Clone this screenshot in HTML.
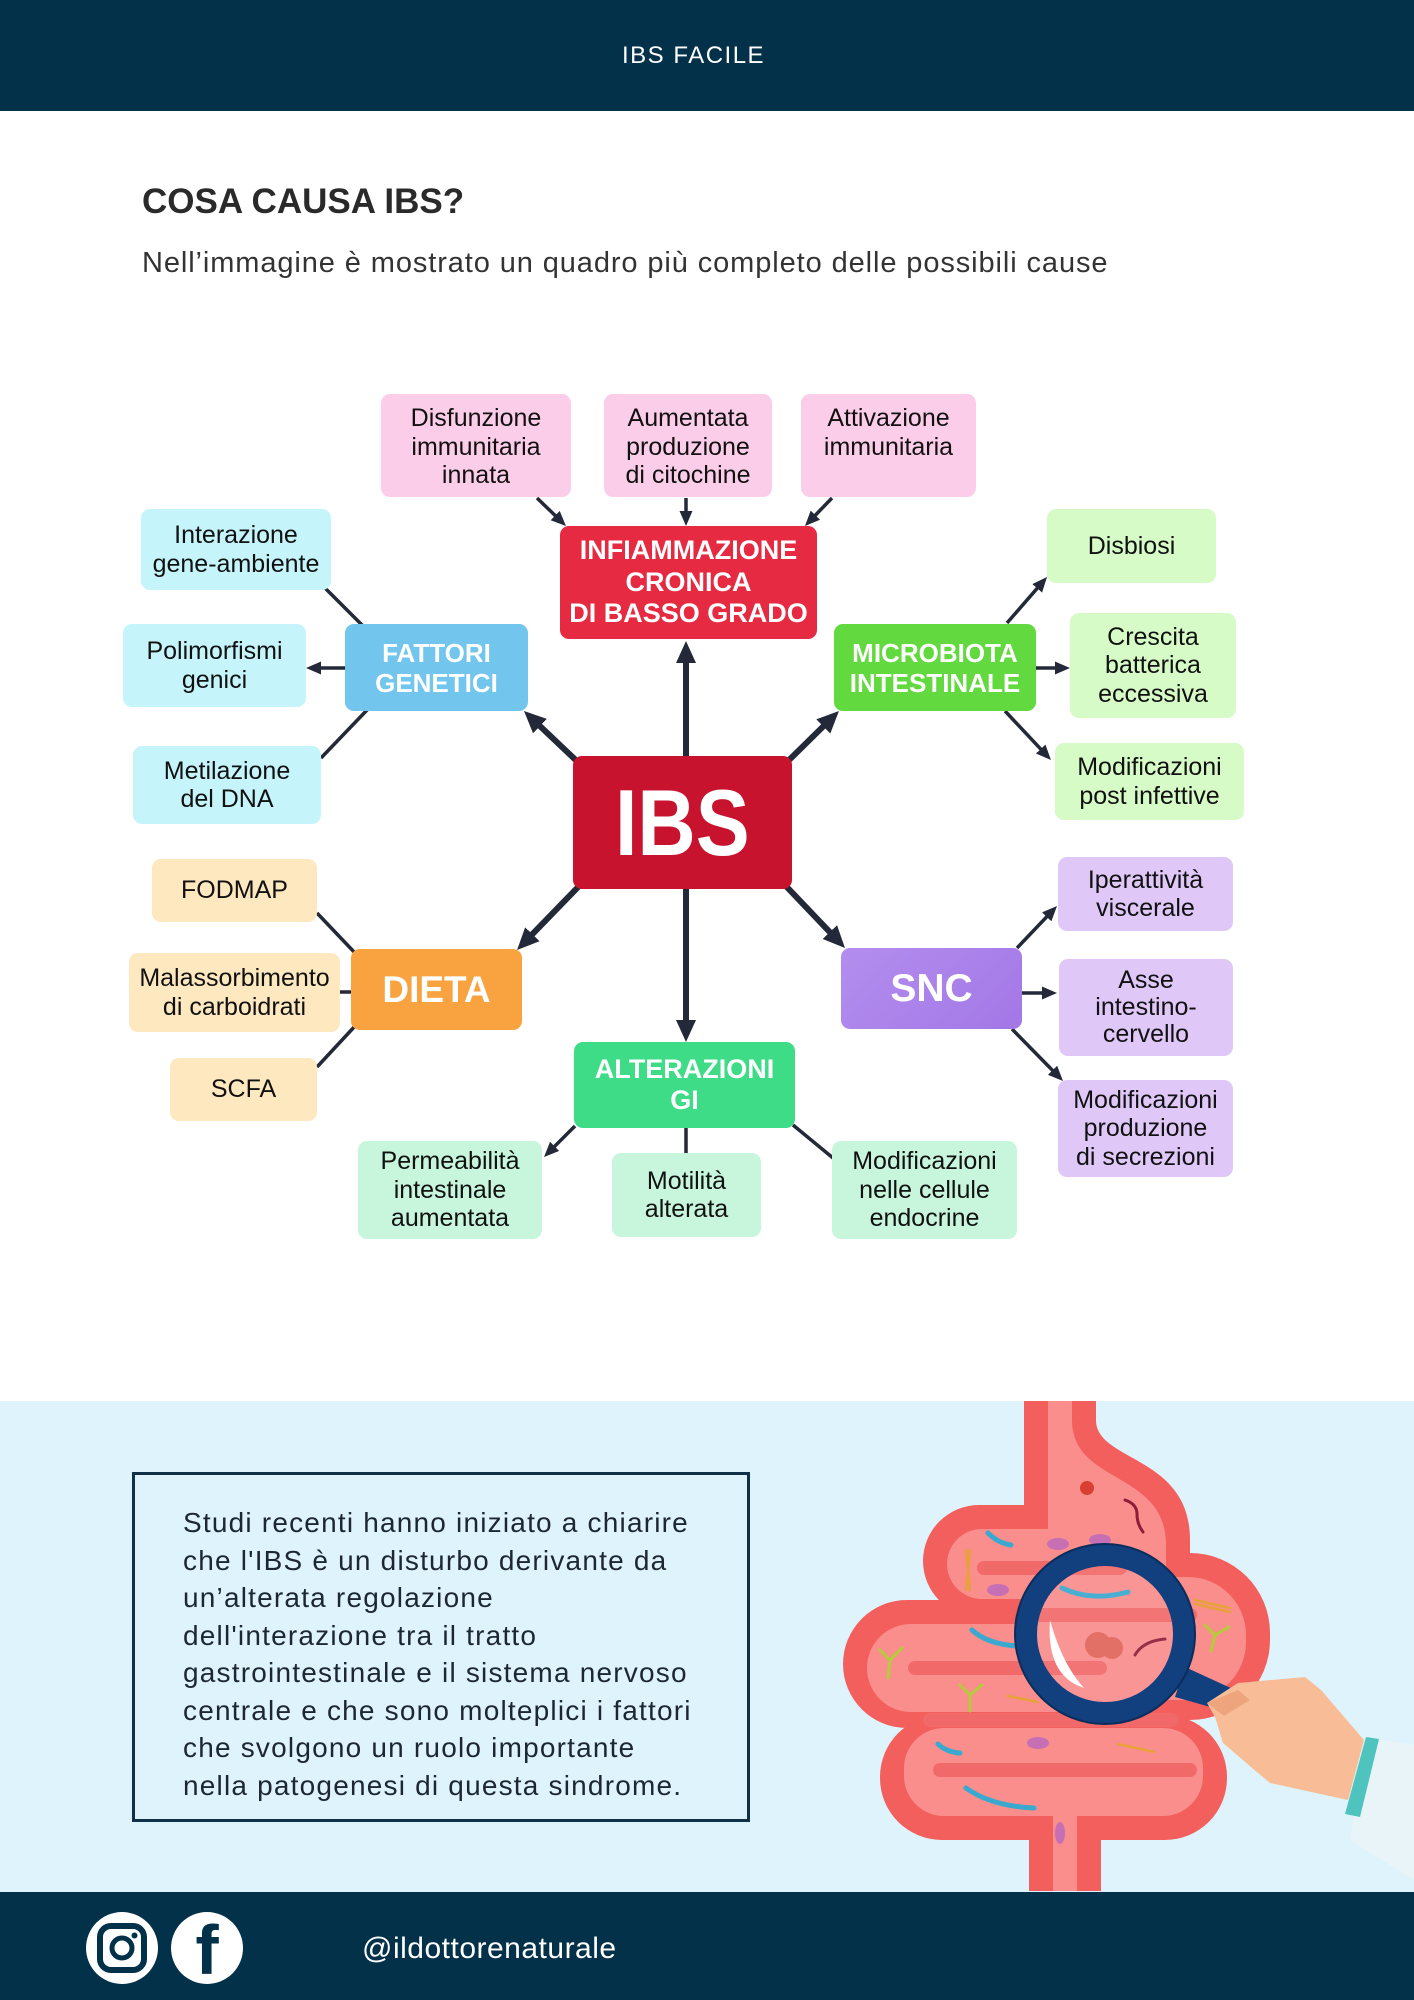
<!DOCTYPE html>
<html lang="it">
<head>
<meta charset="utf-8">
<style>
html,body{margin:0;padding:0;}
body{width:1414px;height:2000px;position:relative;overflow:hidden;background:#ffffff;font-family:"Liberation Sans",Arial,sans-serif;}
.abs{position:absolute;}
.hdr{left:0;top:0;width:1414px;height:111px;background:#03314a;}
.hdr span{position:absolute;left:622px;top:42px;font-size:24px;line-height:28px;color:#fff;letter-spacing:1.5px;}
.title{left:142px;top:184px;font-size:35px;line-height:35px;font-weight:bold;color:#2a2a2a;white-space:nowrap;}
.sub{left:142px;top:249px;font-size:29px;line-height:29px;color:#333;letter-spacing:0.9px;white-space:nowrap;}
.blue{left:0;top:1401px;width:1414px;height:491px;background:#dff3fc;}
.foot{left:0;top:1892px;width:1414px;height:108px;background:#03314a;}
.n{position:absolute;display:flex;align-items:center;justify-content:center;text-align:center;border-radius:9px;font-size:25px;line-height:28.5px;color:#111;z-index:2;box-sizing:border-box;white-space:nowrap;}
.pk{background:#fccde9;align-items:flex-start;padding-top:10px;}
.cy{background:#c5f5fb;}
.lg{background:#d6fbc7;}
.pe{background:#fde8bf;}
.mi{background:#c8f6dc;}
.la{background:#dfc8f8;}
.b{color:#fff;font-weight:bold;font-size:26px;line-height:30px;}
.txtbox{left:132px;top:1472px;width:618px;height:350px;border:3px solid #0f3047;box-sizing:border-box;}
.body{left:183px;top:1504px;font-size:28px;line-height:37.5px;color:#1c2733;letter-spacing:1.2px;white-space:nowrap;}
.handle{left:362px;top:1934px;font-size:30px;line-height:30px;color:#fff;letter-spacing:0.5px;white-space:nowrap;}
svg{position:absolute;left:0;top:0;}
</style>
</head>
<body>
<div class="abs hdr"><span>IBS FACILE</span></div>
<div class="abs title">COSA CAUSA IBS?</div>
<div class="abs sub">Nell’immagine è mostrato un quadro più completo delle possibili cause</div>
<div class="abs blue"></div>
<div class="abs foot"></div>

<svg width="1414" height="2000" style="z-index:1">
<defs>
<marker id="a" markerUnits="userSpaceOnUse" markerWidth="22" markerHeight="20" refX="10" refY="10" orient="auto"><path d="M0,0 L22,10 L0,20 z" fill="#232938"/></marker>
<marker id="m" markerUnits="userSpaceOnUse" markerWidth="15" markerHeight="13" refX="6" refY="6.5" orient="auto"><path d="M0,0 L15,6.5 L0,13 z" fill="#232938"/></marker>
</defs>
<g stroke="#232938" stroke-width="6" fill="none">
<line x1="686" y1="760" x2="686" y2="653" marker-end="url(#a)"/>
<line x1="582" y1="766" x2="532.7" y2="719.2" marker-end="url(#a)"/>
<line x1="783" y1="766" x2="830.4" y2="719.4" marker-end="url(#a)"/>
<line x1="582" y1="883" x2="525.4" y2="941.4" marker-end="url(#a)"/>
<line x1="686" y1="885" x2="686" y2="1030" marker-end="url(#a)"/>
<line x1="783" y1="883" x2="836.7" y2="939.3" marker-end="url(#a)"/>
</g>
<g stroke="#232938" stroke-width="3.5" fill="none">
<line x1="537" y1="498" x2="559.5" y2="519.7" marker-end="url(#m)"/>
<line x1="686" y1="498" x2="686" y2="517" marker-end="url(#m)"/>
<line x1="832" y1="498" x2="811.2" y2="519.5" marker-end="url(#m)"/>
<line x1="348" y1="668" x2="315" y2="668" marker-end="url(#m)"/>
<line x1="1007" y1="623" x2="1041.1" y2="583.8" marker-end="url(#m)"/>
<line x1="1034" y1="668" x2="1061" y2="668" marker-end="url(#m)"/>
<line x1="1005" y1="711" x2="1044.8" y2="753.4" marker-end="url(#m)"/>
<line x1="575" y1="1126" x2="550.4" y2="1150.6" marker-end="url(#m)"/>
<line x1="1017" y1="948" x2="1050.8" y2="912.5" marker-end="url(#m)"/>
<line x1="1020" y1="993" x2="1048" y2="993" marker-end="url(#m)"/>
<line x1="1012" y1="1029" x2="1056.7" y2="1074.6" marker-end="url(#m)"/>
<line x1="325" y1="588" x2="363" y2="626"/>
<line x1="321" y1="758" x2="368" y2="709"/>
<line x1="317" y1="913" x2="356" y2="954"/>
<line x1="338" y1="992" x2="353" y2="992"/>
<line x1="317" y1="1067" x2="356" y2="1025"/>
<line x1="686" y1="1126" x2="686" y2="1155"/>
<line x1="793" y1="1125" x2="833" y2="1158"/>
</g>

<!-- intestine illustration -->
<g fill="#f35f5c">
<rect x="1024" y="1401" width="72" height="130"/>
<path d="M1024,1420 H1096 C1096,1462 1190,1455 1190,1540 V1570 H1024 Z"/>
<rect x="923" y="1505" width="267" height="112" rx="56"/>
<rect x="1000" y="1553" width="270" height="167" rx="80"/>
<rect x="843" y="1600" width="310" height="128" rx="64"/>
<rect x="880" y="1715" width="347" height="125" rx="62"/>
<rect x="1029" y="1780" width="72" height="111"/>
</g>
<g fill="#f98e8c">
<rect x="1048" y="1401" width="24" height="140"/>
<path d="M1048,1420 H1072 C1072,1485 1166,1470 1166,1545 V1570 H1048 Z"/>
<rect x="947" y="1529" width="219" height="70" rx="35"/>
<rect x="1024" y="1577" width="222" height="123" rx="58"/>
<rect x="867" y="1624" width="273" height="88" rx="44"/>
<rect x="904" y="1728" width="299" height="88" rx="40"/>
<rect x="1053" y="1790" width="24" height="101"/>
</g>
<g stroke="#f2696a" stroke-width="14" stroke-linecap="round">
<line x1="984" y1="1568" x2="1120" y2="1568"/>
<line x1="915" y1="1668" x2="1100" y2="1668"/>
<line x1="930" y1="1720" x2="1172" y2="1720"/>
<line x1="940" y1="1770" x2="1190" y2="1770"/>
<line x1="1040" y1="1615" x2="1190" y2="1615"/>
</g>
<g fill="none" stroke-linecap="round">
<path d="M988,1533 q10,10 23,12" stroke="#3aa9cf" stroke-width="5"/>
<path d="M972,1630 q15,14 45,16" stroke="#3aa9cf" stroke-width="5"/>
<path d="M938,1744 q8,8 22,9" stroke="#3aa9cf" stroke-width="5"/>
<path d="M966,1788 q25,18 68,20" stroke="#3aa9cf" stroke-width="5"/>
<path d="M1062,1588 q30,14 66,4" stroke="#3aa9cf" stroke-width="5"/>
<path d="M1125,1500 q12,4 12,14 q0,10 6,18" stroke="#8b1d3a" stroke-width="3"/>
<path d="M1135,1655 q8,-14 30,-16" stroke="#8b1d3a" stroke-width="3"/>
<path d="M880,1650 l10,10 l12,-12 M890,1660 l-2,18" stroke="#b5cc3a" stroke-width="3"/>
<path d="M960,1685 l10,10 l12,-10 M970,1695 l0,16" stroke="#b5cc3a" stroke-width="3"/>
<path d="M1205,1625 l10,10 l14,-8 M1215,1635 l-4,16" stroke="#b5cc3a" stroke-width="3"/>
<path d="M966,1550 l4,40 M970,1550 l-4,40" stroke="#e9a23a" stroke-width="2.5"/>
<path d="M1195,1600 l35,8 M1195,1604 l35,8" stroke="#e9a23a" stroke-width="2.5"/>
<path d="M1118,1744 l36,8" stroke="#e9a23a" stroke-width="2.5"/>
<path d="M1008,1696 l30,6" stroke="#e9a23a" stroke-width="2.5"/>
</g>
<g fill="#c66fb4">
<ellipse cx="1058" cy="1544" rx="11" ry="6"/>
<ellipse cx="998" cy="1590" rx="11" ry="6"/>
<ellipse cx="1038" cy="1743" rx="11" ry="6"/>
<ellipse cx="1060" cy="1833" rx="5" ry="11"/>
<ellipse cx="1100" cy="1540" rx="11" ry="6"/>
</g>
<circle cx="1087" cy="1488" r="7" fill="#d9402f"/>
<circle cx="1098" cy="1645" r="13" fill="#e0645a"/>
<circle cx="1112" cy="1648" r="11" fill="#e0645a"/>
<!-- magnifier -->
<circle cx="1105" cy="1634" r="68" fill="#ffffff" fill-opacity="0.08"/>
<path d="M1050,1620 Q1046,1676 1084,1688 Q1062,1664 1050,1620 Z" fill="#ffffff"/>
<path d="M1185,1667 L1259,1701 L1307,1728 L1253,1719 L1175,1697 Z" fill="#123f7d"/>
<circle cx="1105" cy="1634" r="79" fill="none" stroke="#123f7d" stroke-width="22"/>
<circle cx="1105" cy="1634" r="90" fill="none" stroke="#0b2d5c" stroke-width="2"/>
<!-- hand -->
<path d="M1207,1703 L1238,1683 L1305,1677 L1321,1690 L1364,1740 L1348,1800 L1270,1783 L1258,1773 L1223,1743 L1215,1717 Z" fill="#f8bd96"/>
<path d="M1207,1703 L1238,1690 L1250,1700 L1224,1716 Z" fill="#eea57e"/>
<path d="M1366,1737 L1414,1745 L1414,1880 L1350,1840 Z" fill="#e9f4f8"/>
<path d="M1366,1737 L1379,1739 L1360,1817 L1345,1814 Z" fill="#4fc3bd"/>
</svg>

<div class="n pk" style="left:381px;top:394px;width:190px;height:103px">Disfunzione<br>immunitaria<br>innata</div>
<div class="n pk" style="left:604px;top:394px;width:168px;height:103px">Aumentata<br>produzione<br>di citochine</div>
<div class="n pk" style="left:801px;top:394px;width:175px;height:103px">Attivazione<br>immunitaria</div>
<div class="n b" style="left:560px;top:526px;width:257px;height:113px;background:#e62a41;font-size:27px;line-height:31.5px;">INFIAMMAZIONE<br>CRONICA<br>DI BASSO GRADO</div>

<div class="n cy" style="left:141px;top:509px;width:190px;height:81px">Interazione<br>gene-ambiente</div>
<div class="n cy" style="left:123px;top:624px;width:183px;height:83px">Polimorfismi<br>genici</div>
<div class="n cy" style="left:133px;top:746px;width:188px;height:78px">Metilazione<br>del DNA</div>
<div class="n b" style="left:345px;top:624px;width:183px;height:87px;background:#72c5ec;">FATTORI<br>GENETICI</div>

<div class="n lg" style="left:1047px;top:509px;width:169px;height:74px">Disbiosi</div>
<div class="n lg" style="left:1070px;top:613px;width:166px;height:105px">Crescita<br>batterica<br>eccessiva</div>
<div class="n lg" style="left:1055px;top:743px;width:189px;height:77px">Modificazioni<br>post infettive</div>
<div class="n b" style="left:834px;top:624px;width:202px;height:87px;background:#62d93e;">MICROBIOTA<br>INTESTINALE</div>

<div class="n" style="left:573px;top:756px;width:219px;height:133px;background:#c8132f;color:#fff;font-weight:bold;font-size:94px;line-height:94px;"><span style="display:inline-block;transform:scaleX(0.86);">IBS</span></div>

<div class="n pe" style="left:152px;top:859px;width:165px;height:63px">FODMAP</div>
<div class="n pe" style="left:129px;top:953px;width:211px;height:79px">Malassorbimento<br>di carboidrati</div>
<div class="n pe" style="left:170px;top:1058px;width:147px;height:63px">SCFA</div>
<div class="n b" style="left:351px;top:949px;width:171px;height:81px;background:#f8a33f;font-size:37px;line-height:40px;">DIETA</div>

<div class="n mi" style="left:358px;top:1141px;width:184px;height:98px">Permeabilità<br>intestinale<br>aumentata</div>
<div class="n mi" style="left:612px;top:1153px;width:149px;height:84px">Motilità<br>alterata</div>
<div class="n mi" style="left:832px;top:1141px;width:185px;height:98px">Modificazioni<br>nelle cellule<br>endocrine</div>
<div class="n b" style="left:574px;top:1042px;width:221px;height:86px;background:#3fdc88;font-size:27px;line-height:31.5px;">ALTERAZIONI<br>GI</div>

<div class="n la" style="left:1058px;top:857px;width:175px;height:74px">Iperattività<br>viscerale</div>
<div class="n la" style="left:1059px;top:959px;width:174px;height:97px;line-height:27px;">Asse<br>intestino-<br>cervello</div>
<div class="n la" style="left:1058px;top:1080px;width:175px;height:97px">Modificazioni<br>produzione<br>di secrezioni</div>
<div class="n b" style="left:841px;top:948px;width:181px;height:81px;background:linear-gradient(135deg,#b38eee,#a377e6);font-size:39px;line-height:40px;">SNC</div>

<div class="abs txtbox"></div>
<div class="abs body">Studi recenti hanno iniziato a chiarire<br>che l'IBS è un disturbo derivante da<br>un’alterata regolazione<br>dell'interazione tra il tratto<br>gastrointestinale e il sistema nervoso<br>centrale e che sono molteplici i fattori<br>che svolgono un ruolo importante<br>nella patogenesi di questa sindrome.</div>

<svg width="1414" height="2000" style="z-index:3;pointer-events:none">
<circle cx="122" cy="1948" r="36" fill="#ffffff"/>
<rect x="100" y="1926" width="44" height="44" rx="11" fill="none" stroke="#03314a" stroke-width="6"/>
<circle cx="122" cy="1948" r="10" fill="none" stroke="#03314a" stroke-width="5"/>
<circle cx="134.5" cy="1935.5" r="3" fill="#03314a"/>
<circle cx="207" cy="1948" r="36" fill="#ffffff"/>
<text x="207" y="1974" text-anchor="middle" font-family="Liberation Sans, Arial, sans-serif" font-weight="bold" font-size="70" fill="#03314a">f</text>
</svg>
<div class="abs handle" style="z-index:4">@ildottorenaturale</div>
</body>
</html>
